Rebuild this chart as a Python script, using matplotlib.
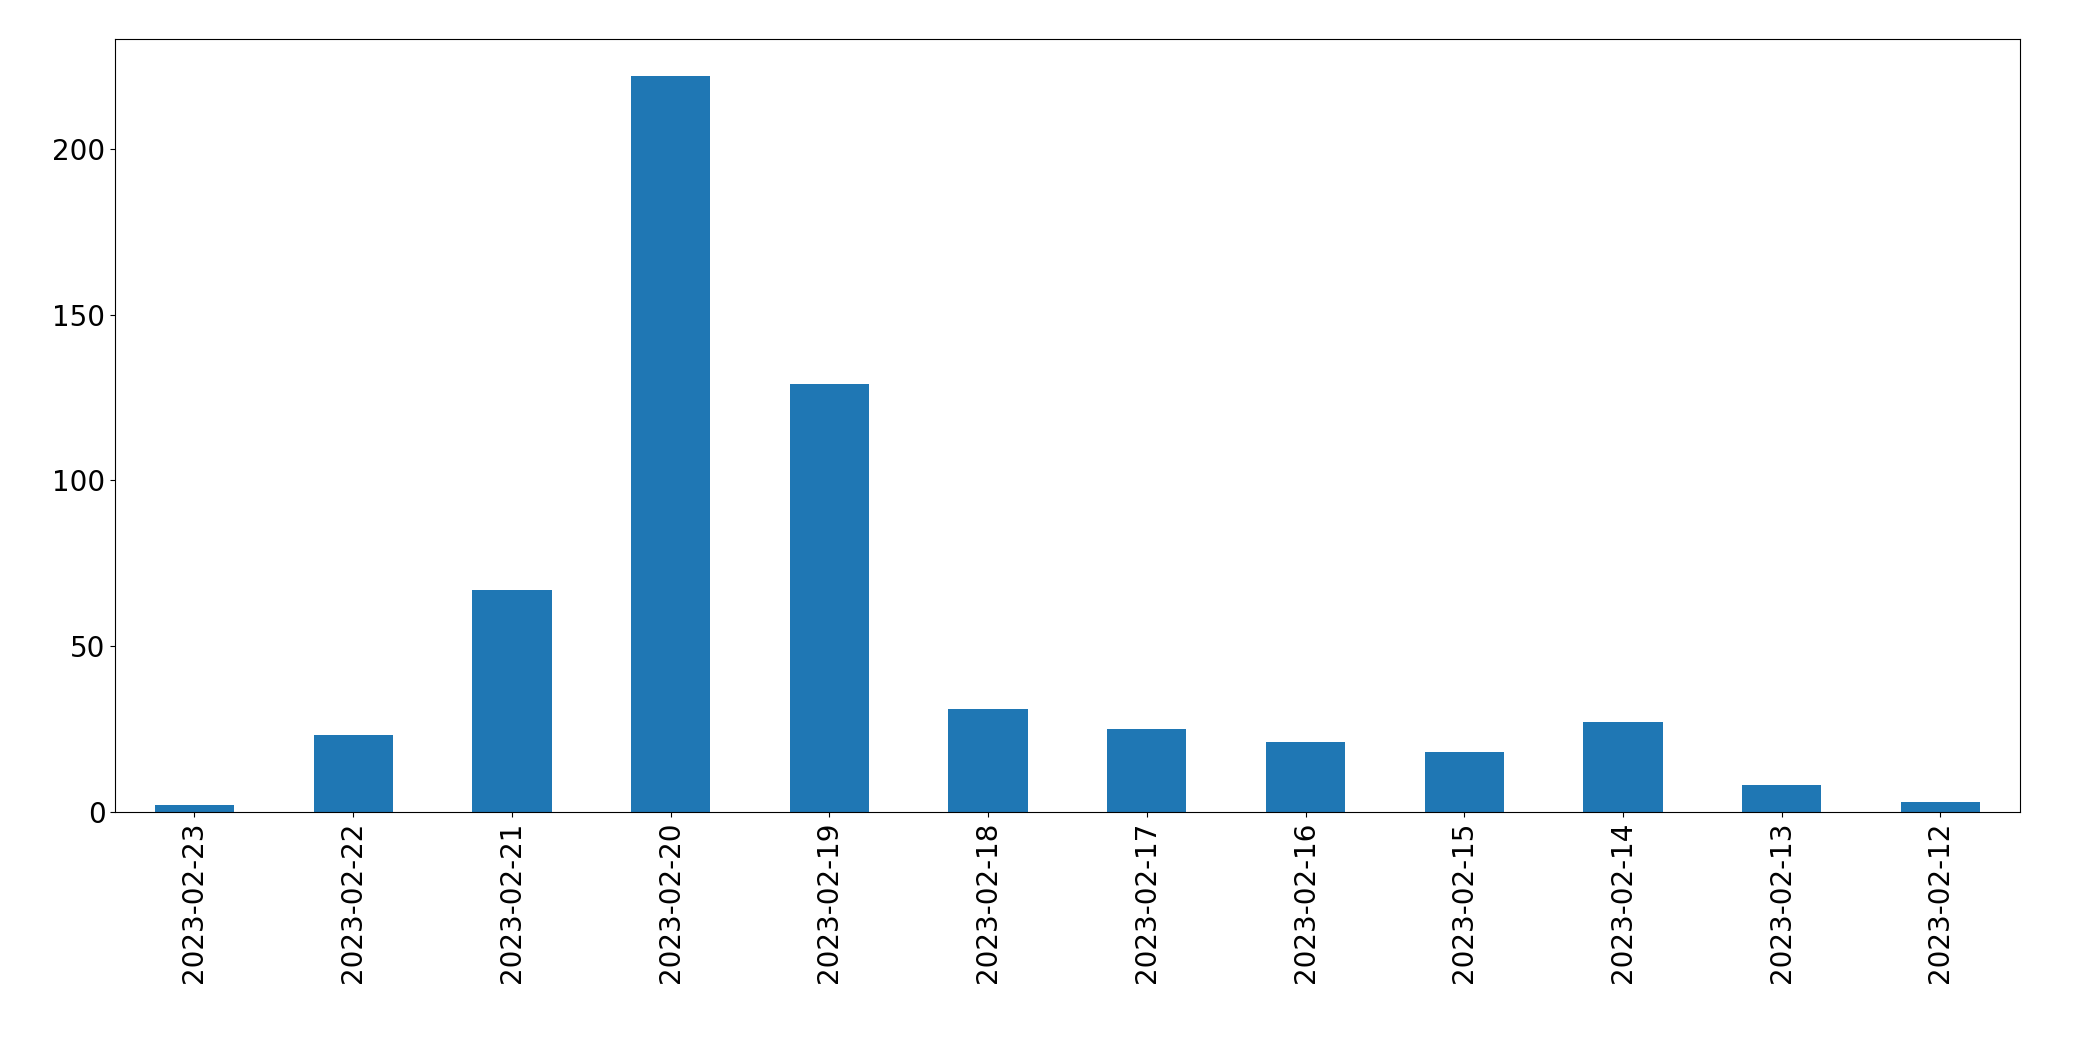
import matplotlib.pyplot as plt
import pandas as pd

dates = ["2023-02-23", "2023-02-22", "2023-02-21", "2023-02-20", "2023-02-19", "2023-02-18",
         "2023-02-17", "2023-02-16", "2023-02-15", "2023-02-14", "2023-02-13", "2023-02-12"]
counts = [2, 23, 67, 222, 129, 31, 25, 21, 18, 27, 8, 3]

s = pd.Series(counts, index=dates)

fig, ax = plt.subplots(figsize=(20.93, 10.61), dpi=100)
s.plot(kind="bar", ax=ax, color="#1f77b4", fontsize=20)
ax.tick_params(labelsize=20)
fig.subplots_adjust(left=0.055, right=0.965, top=0.963, bottom=0.235)
fig.savefig("out.png", dpi=100)
